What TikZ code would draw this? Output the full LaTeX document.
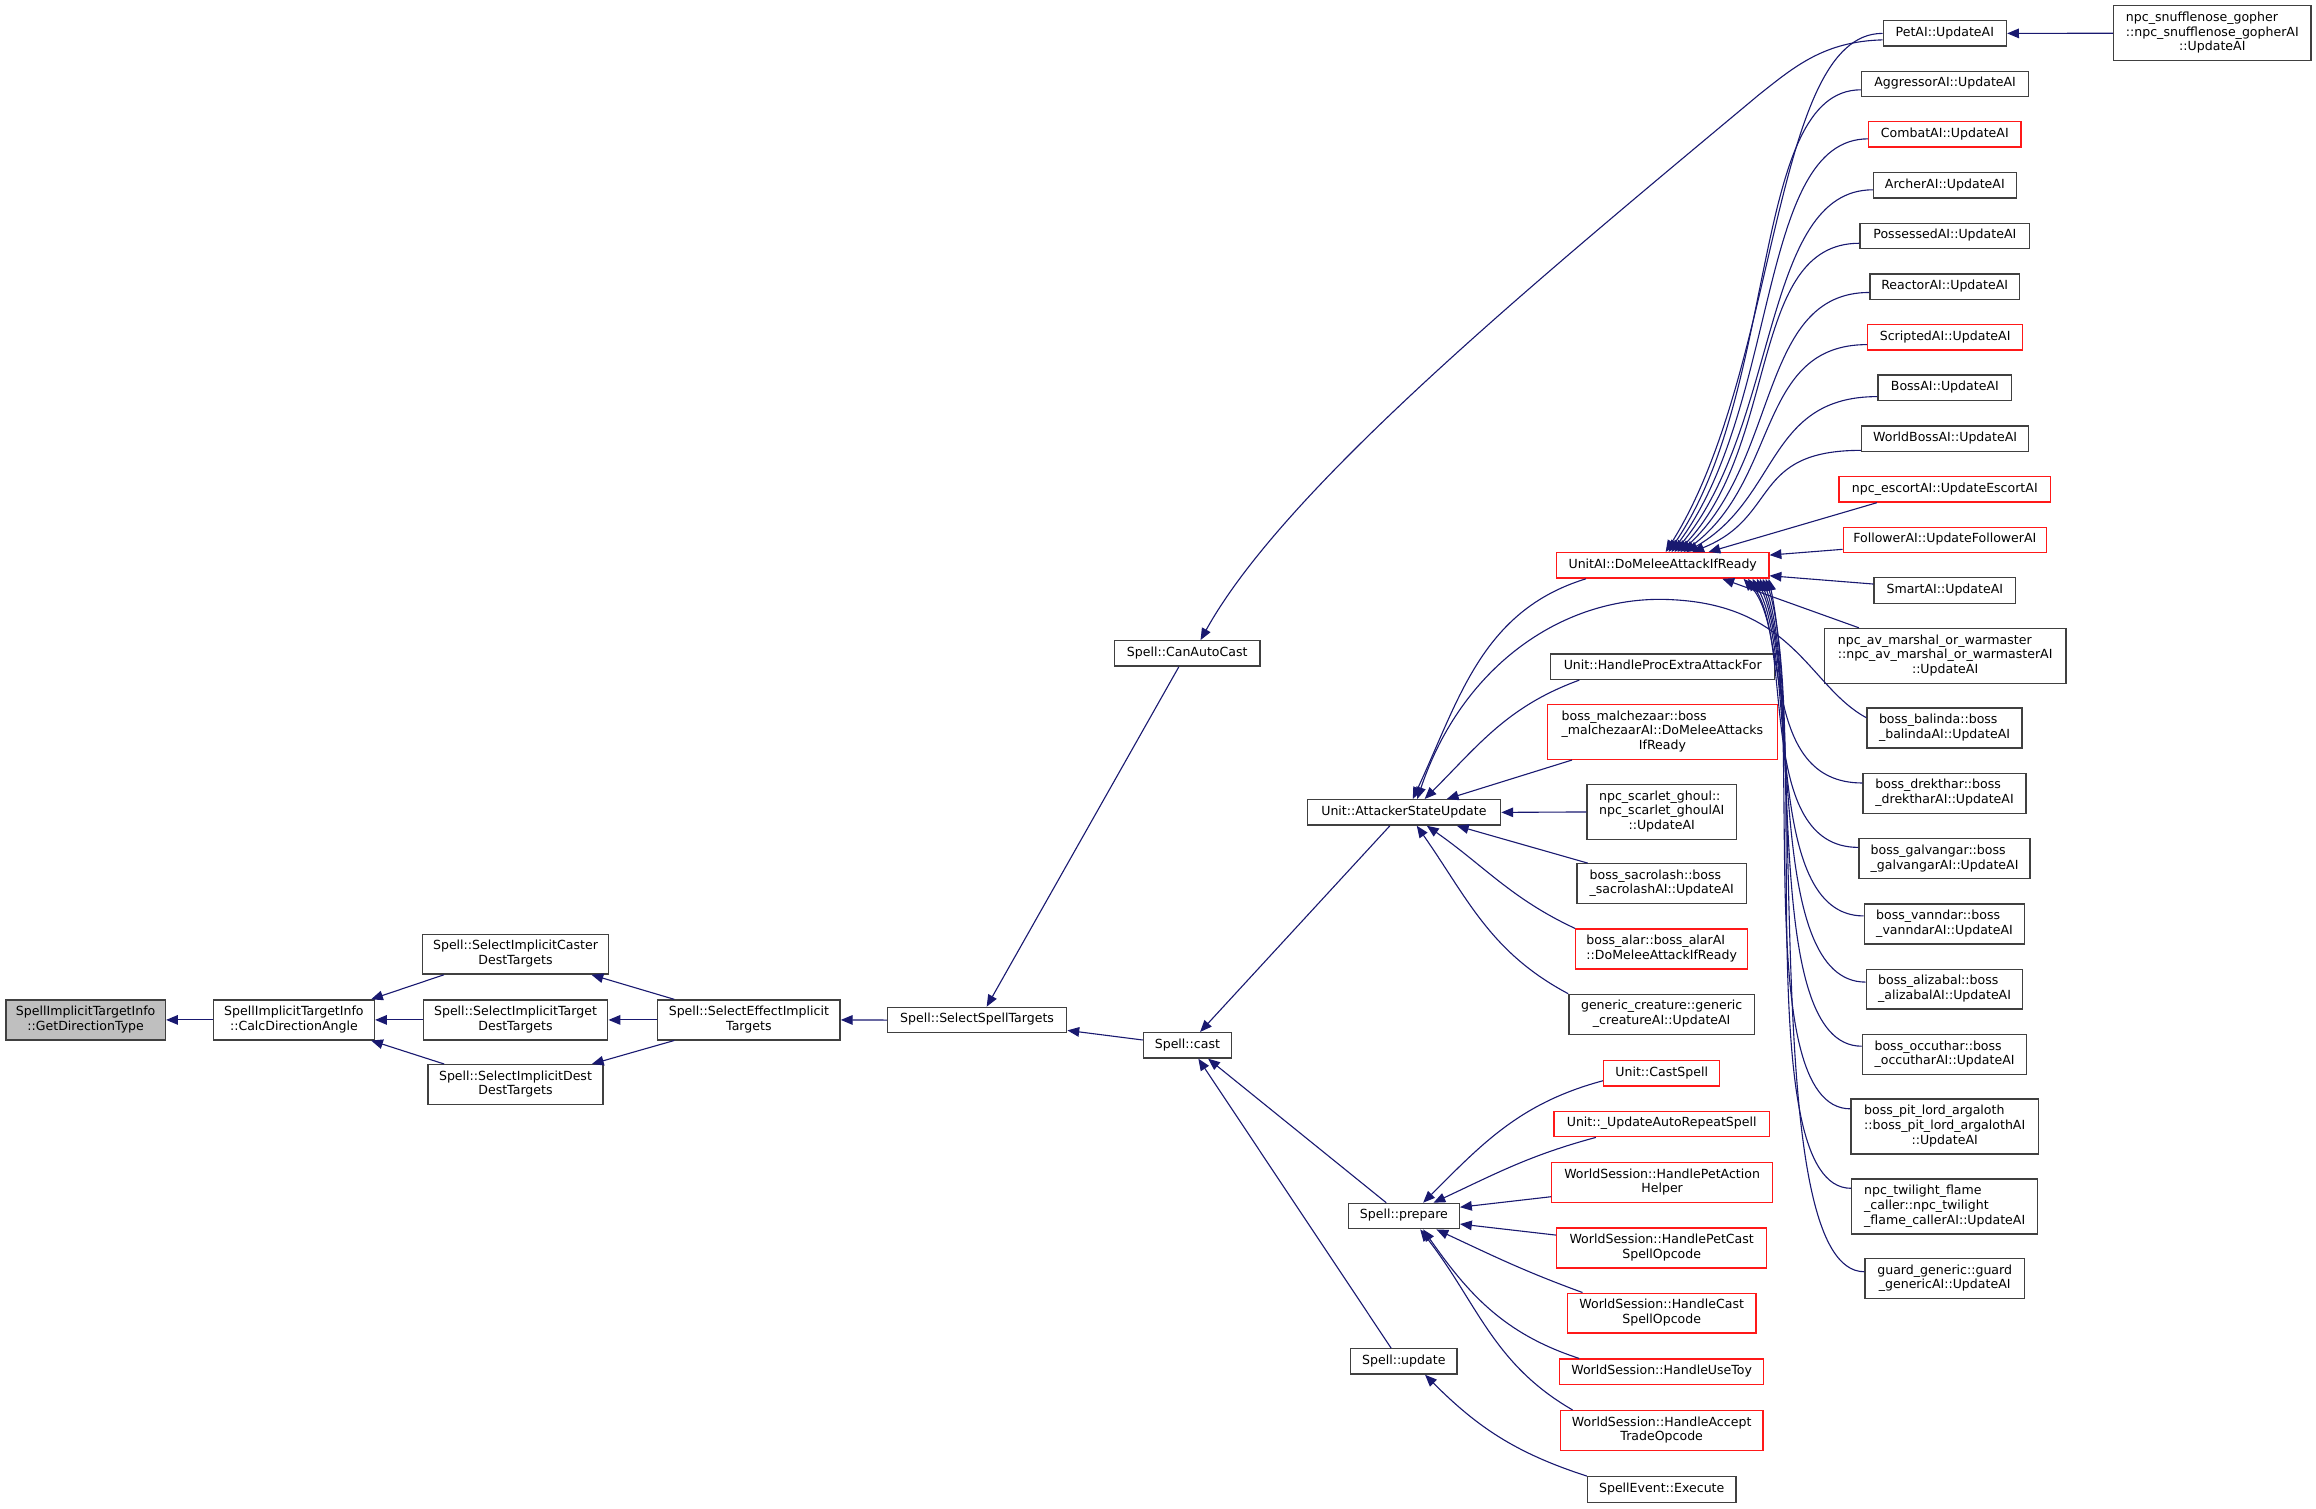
\documentclass[tikz,border=0pt]{standalone}
\usepackage{fontspec}
\setmainfont{DejaVu Sans}
\usepackage{tikz}
\usetikzlibrary{arrows.meta}
\definecolor{edgeblue}{RGB}{25,25,112}
\definecolor{rootgray}{RGB}{191,191,191}
\newcommand{\calllabel}[2]{\begin{tabular}{@{}l@{}}#1\\\multicolumn{1}{@{}c@{}}{#2}\end{tabular}}
\tikzset{
	fnbox/.style={draw=black!75, line width=0.9pt, inner sep=0pt, minimum height=17.2pt,
		font={\fontsize{8.5}{9.9}\selectfont}, execute at begin node=\strut},
	fnboxred/.style={fnbox, draw=red!90!white},
	fnboxroot/.style={fnbox, fill=rootgray},
	twoline/.style={minimum height=27pt},
	threeline/.style={minimum height=37.2pt},
	call/.style={draw=edgeblue, line width=0.75pt, ->},
	>={Triangle[length=8pt,width=6.5pt]},
}

\begin{document}
\begin{tikzpicture}[x=1pt, y=-1pt]
	\useasboundingbox (0,0) rectangle (1568,1021);
	% left part
	\node[fnboxroot, twoline, minimum width=108pt] (gdt) at (58,690.5) {\calllabel{SpellImplicitTargetInfo}{::GetDirectionType}};
	\node[fnbox, twoline, minimum width=109pt] (cda) at (199,690.5) {\calllabel{SpellImplicitTargetInfo}{::CalcDirectionAngle}};
	\node[fnbox, twoline, minimum width=126pt] (caster) at (349,646) {\calllabel{Spell::SelectImplicitCaster}{DestTargets}};
	\node[fnbox, twoline, minimum width=125pt] (target) at (349,690.5) {\calllabel{Spell::SelectImplicitTarget}{DestTargets}};
	\node[fnbox, twoline, minimum width=118.5pt] (dest) at (349,734.3) {\calllabel{Spell::SelectImplicitDest}{DestTargets}};
	\node[fnbox, twoline, minimum width=123.6pt] (effect) at (507,690.5) {\calllabel{Spell::SelectEffectImplicit}{Targets}};
	\node[fnbox, minimum width=121.4pt] (selectspell) at (661.5,690.6) {Spell::SelectSpellTargets};
	\node[fnbox, minimum width=98.6pt] (canautocast) at (803.8,442.4) {Spell::CanAutoCast};
	\node[fnbox, minimum width=59.6pt] (cast) at (803.9,707.7) {Spell::cast};
	\node[fnbox, minimum width=131pt] (asu) at (950.5,550) {Unit::AttackerStateUpdate};
	\node[fnbox, minimum width=75pt] (prepare) at (950.5,823.3) {Spell::prepare};
	\node[fnbox, minimum width=72pt] (update) at (950.4,921.7) {Spell::update};
	% middle column
	\node[fnboxred, minimum width=143.8pt] (domelee) at (1125.7,382.8) {UnitAI::DoMeleeAttackIfReady};
	\node[fnbox, minimum width=151.6pt] (procextra) at (1125.7,451.4) {Unit::HandleProcExtraAttackFor};
	\node[fnboxred, threeline, minimum width=155.5pt] (malchezaar) at (1125.5,495.5) {\calllabel{boss\_malchezaar::boss\\\_malchezaarAI::DoMeleeAttacks}{IfReady}};
	\node[fnbox, threeline, minimum width=101pt] (scarlet) at (1125,549.7) {\calllabel{npc\_scarlet\_ghoul::\\npc\_scarlet\_ghoulAI}{::UpdateAI}};
	\node[fnbox, twoline, minimum width=114.6pt] (sacrolash) at (1125,598.3) {\calllabel{boss\_sacrolash::boss}{\_sacrolashAI::UpdateAI}};
	\node[fnboxred, twoline, minimum width=116.4pt] (alar) at (1125,642.5) {\calllabel{boss\_alar::boss\_alarAI}{::DoMeleeAttackIfReady}};
	\node[fnbox, twoline, minimum width=125.7pt] (generic) at (1125,686.7) {\calllabel{generic\_creature::generic}{\_creatureAI::UpdateAI}};
	\node[fnboxred, minimum width=78.7pt] (castspell) at (1125,726.7) {Unit::CastSpell};
	\node[fnboxred, minimum width=145.6pt] (autorepeat) at (1125,761) {Unit::\_UpdateAutoRepeatSpell};
	\node[fnboxred, twoline, minimum width=149.4pt] (petaction) at (1125.3,800.6) {\calllabel{WorldSession::HandlePetAction}{Helper}};
	\node[fnboxred, twoline, minimum width=142pt] (petcast) at (1125,844.9) {\calllabel{WorldSession::HandlePetCast}{SpellOpcode}};
	\node[fnboxred, twoline, minimum width=127.5pt] (castop) at (1125,889) {\calllabel{WorldSession::HandleCast}{SpellOpcode}};
	\node[fnboxred, minimum width=138.3pt] (usetoy) at (1125,928.7) {WorldSession::HandleUseToy};
	\node[fnboxred, twoline, minimum width=137pt] (accepttrade) at (1125,968.5) {\calllabel{WorldSession::HandleAccept}{TradeOpcode}};
	\node[fnbox, minimum width=100.4pt] (execute) at (1125,1008.4) {SpellEvent::Execute};
	% right column
	\node[fnbox, minimum width=83.5pt] (petai) at (1316.7,22.6) {PetAI::UpdateAI};
	\node[fnbox, minimum width=113.2pt] (agg) at (1316.9,56.8) {AggressorAI::UpdateAI};
	\node[fnboxred, minimum width=103pt] (combat) at (1316.7,91) {CombatAI::UpdateAI};
	\node[fnbox, minimum width=96.6pt] (archer) at (1316.7,125.5) {ArcherAI::UpdateAI};
	\node[fnbox, minimum width=115pt] (possessed) at (1316.7,159.7) {PossessedAI::UpdateAI};
	\node[fnbox, minimum width=101.2pt] (reactor) at (1316.6,194) {ReactorAI::UpdateAI};
	\node[fnboxred, minimum width=104.8pt] (scripted) at (1316.9,228.3) {ScriptedAI::UpdateAI};
	\node[fnbox, minimum width=90.3pt] (boss) at (1316.7,262.5) {BossAI::UpdateAI};
	\node[fnbox, minimum width=113.2pt] (worldboss) at (1316.9,296.9) {WorldBossAI::UpdateAI};
	\node[fnboxred, minimum width=143.2pt] (escort) at (1316.7,331.3) {npc\_escortAI::UpdateEscortAI};
	\node[fnboxred, minimum width=137.5pt] (follower) at (1316.7,365.5) {FollowerAI::UpdateFollowerAI};
	\node[fnbox, minimum width=95.9pt] (smart) at (1316.7,399.8) {SmartAI::UpdateAI};
	\node[fnbox, threeline, minimum width=163.8pt] (marshal) at (1316.9,444.1) {\calllabel{npc\_av\_marshal\_or\_warmaster\\::npc\_av\_marshal\_or\_warmasterAI}{::UpdateAI}};
	\node[fnbox, twoline, minimum width=105pt] (balinda) at (1316.5,492.9) {\calllabel{boss\_balinda::boss}{\_balindaAI::UpdateAI}};
	\node[fnbox, twoline, minimum width=110.4pt] (drekthar) at (1316.5,537.1) {\calllabel{boss\_drekthar::boss}{\_drektharAI::UpdateAI}};
	\node[fnbox, twoline, minimum width=115.8pt] (galvangar) at (1316.5,581.4) {\calllabel{boss\_galvangar::boss}{\_galvangarAI::UpdateAI}};
	\node[fnbox, twoline, minimum width=108.6pt] (vanndar) at (1316.5,625.5) {\calllabel{boss\_vanndar::boss}{\_vanndarAI::UpdateAI}};
	\node[fnbox, twoline, minimum width=105.9pt] (alizabal) at (1316.5,669.7) {\calllabel{boss\_alizabal::boss}{\_alizabalAI::UpdateAI}};
	\node[fnbox, twoline, minimum width=111.3pt] (occuthar) at (1316.5,714) {\calllabel{boss\_occuthar::boss}{\_occutharAI::UpdateAI}};
	\node[fnbox, threeline, minimum width=126.8pt] (pitlord) at (1316.6,762.7) {\calllabel{boss\_pit\_lord\_argaloth\\::boss\_pit\_lord\_argalothAI}{::UpdateAI}};
	\node[fnbox, threeline, minimum width=126pt] (twilight) at (1316.6,816.8) {\calllabel{npc\_twilight\_flame\\\_caller::npc\_twilight}{\_flame\_callerAI::UpdateAI}};
	\node[fnbox, twoline, minimum width=107.9pt] (guard) at (1316.6,865.5) {\calllabel{guard\_generic::guard}{\_genericAI::UpdateAI}};
	\node[fnbox, threeline, minimum width=133.7pt] (snuffle) at (1497.8,22.5) {\calllabel{npc\_snufflenose\_gopher\\::npc\_snufflenose\_gopherAI}{::UpdateAI}};
	%
	\draw[call] (cda.west) -- (gdt.east);
	\draw[call] ([xshift=15pt]caster.south west) -- ([xshift=-2.7pt]cda.north east);
	\draw[call] (target.west) -- (cda.east);
	\draw[call] ([xshift=11.4pt]dest.north west) -- ([xshift=-2.7pt]cda.south east);
	\draw[call] ([xshift=11.7pt]effect.north west) -- ([xshift=-12pt]caster.south east);
	\draw[call] (effect.west) -- (target.east);
	\draw[call] ([xshift=11.7pt]effect.south west) -- ([xshift=-8pt]dest.north east);
	\draw[call] (selectspell.west) -- (effect.east);
	%
	\draw[call] ([xshift=-5.7pt]canautocast.south) -- ([xshift=6.5pt]selectspell.north);
	\draw[call] ([yshift=3.6pt]cast.west) -- ([yshift=-7pt]selectspell.east);
	\draw[call] ([yshift=-4.4pt]petai.west) .. controls (1235,28) and (1215,45) .. (1191,64)
		.. controls (1040,190) and (870,330) .. ([xshift=9pt]canautocast.north);
	\draw[call] ([xshift=-9.5pt]asu.south) -- ([xshift=8.6pt]cast.north);
	\draw[call] ([xshift=-12pt]prepare.north) -- ([xshift=14pt]cast.south);
	\draw[call] ([xshift=-8.6pt]update.north) -- ([xshift=7.4pt]cast.south);
	%
	\draw[call] ([xshift=20.4pt]domelee.south west) to[out=197,in=65] ([xshift=6pt]asu.north);
	\draw[call] ([yshift=7pt]balinda.west) .. controls (1225,465) and (1215,410) .. (1132,406)
		.. controls (1060,402) and (990,450) .. ([xshift=9pt]asu.north);
	\draw[call] ([xshift=19.8pt]procextra.south west) to[out=200,in=45] ([xshift=14pt]asu.north);
	\draw[call] ([xshift=17pt]malchezaar.south west) -- ([xshift=29pt]asu.north);
	\draw[call] (scarlet.west) -- (asu.east);
	\draw[call] ([xshift=7.7pt]sacrolash.north west) -- ([xshift=35.8pt]asu.south);
	\draw[call] (alar.north west) to[out=155,in=-35] ([xshift=15.5pt]asu.south);
	\draw[call] (generic.north west) to[out=152,in=-55] ([xshift=8.7pt]asu.south);
	%
	\draw[call] (petai.west) .. controls +(-75,0) and (1205,251) .. ([xshift=2pt]domelee.north);
	\draw[call] ([yshift=-4pt]agg.west) .. controls +(-75,0) and (1205,264) .. ([xshift=4pt]domelee.north);
	\draw[call] ([yshift=-3pt]combat.west) .. controls +(-75,0) and (1205,276) .. ([xshift=6pt]domelee.north);
	\draw[call] ([yshift=-3pt]archer.west) .. controls +(-75,0) and (1205,288) .. ([xshift=8pt]domelee.north);
	\draw[call] ([yshift=-5pt]possessed.west) .. controls +(-75,0) and (1205,301) .. ([xshift=10pt]domelee.north);
	\draw[call] ([yshift=-4pt]reactor.west) .. controls +(-75,0) and (1205,312) .. ([xshift=12pt]domelee.north);
	\draw[call] ([yshift=-5pt]scripted.west) .. controls +(-75,0) and (1205,325) .. ([xshift=14pt]domelee.north);
	\draw[call] ([yshift=-6pt]boss.west) .. controls +(-75,0) and (1205,337) .. ([xshift=16pt]domelee.north);
	\draw[call] ([yshift=-8pt]worldboss.west) .. controls +(-75,0) and (1205,350) .. ([xshift=20pt]domelee.north);
	\draw[call] ([xshift=26pt]escort.south west) -- ([xshift=31pt]domelee.north);
	\draw[call] ([yshift=-6.4pt]follower.west) -- ([yshift=7pt]domelee.east);
	\draw[call] ([yshift=4.4pt]smart.west) -- ([yshift=-7pt]domelee.east);
	\draw[call] ([xshift=24pt]marshal.north west) -- ([xshift=-32pt]domelee.south east);
	\draw[call] ([yshift=7pt]drekthar.west) .. controls +(-70,0) and (1212,426) .. ([xshift=-17.6pt]domelee.south east);
	\draw[call] ([yshift=7.7pt]galvangar.west) .. controls +(-70,0) and (1215,437) .. ([xshift=-14.6pt]domelee.south east);
	\draw[call] ([yshift=5.4pt]vanndar.west) .. controls +(-70,0) and (1218,448) .. ([xshift=-11.6pt]domelee.south east);
	\draw[call] ([yshift=4.8pt]alizabal.west) .. controls +(-70,0) and (1220,460) .. ([xshift=-8.6pt]domelee.south east);
	\draw[call] ([yshift=5.7pt]occuthar.west) .. controls +(-70,0) and (1222,470) .. ([xshift=-6.6pt]domelee.south east);
	\draw[call] ([yshift=12pt]pitlord.west) .. controls +(-70,0) and (1224,481) .. ([xshift=-4.6pt]domelee.south east);
	\draw[call] ([yshift=12.3pt]twilight.west) .. controls +(-70,0) and (1226,494) .. ([xshift=-2.6pt]domelee.south east);
	\draw[call] ([yshift=4.5pt]guard.west) .. controls +(-70,0) and (1222,508) .. ([xshift=-0.6pt]domelee.south east);
	%
	\draw[call] ([yshift=-5pt]castspell.west) to[out=195,in=45] ([xshift=13pt]prepare.north);
	\draw[call] ([xshift=28.7pt]autorepeat.south west) to[out=195,in=25] ([xshift=20pt]prepare.north);
	\draw[call] ([yshift=-9.6pt]petaction.west) -- ([yshift=6pt]prepare.east);
	\draw[call] ([yshift=8.7pt]petcast.west) -- ([yshift=-5.4pt]prepare.east);
	\draw[call] ([xshift=10.6pt]castop.north west) to[out=160,in=-25] ([xshift=22pt]prepare.south);
	\draw[call] ([xshift=13.7pt]usetoy.north west) to[out=162,in=-55] ([xshift=13pt]prepare.south);
	\draw[call] ([xshift=8.6pt]accepttrade.north west) to[out=150,in=-52] ([xshift=11pt]prepare.south);
	\draw[call] (execute.north west) to[out=162,in=-45] ([xshift=14.4pt]update.south);
	\draw[call] (snuffle.west) -- (petai.east);
\end{tikzpicture}
\end{document}
